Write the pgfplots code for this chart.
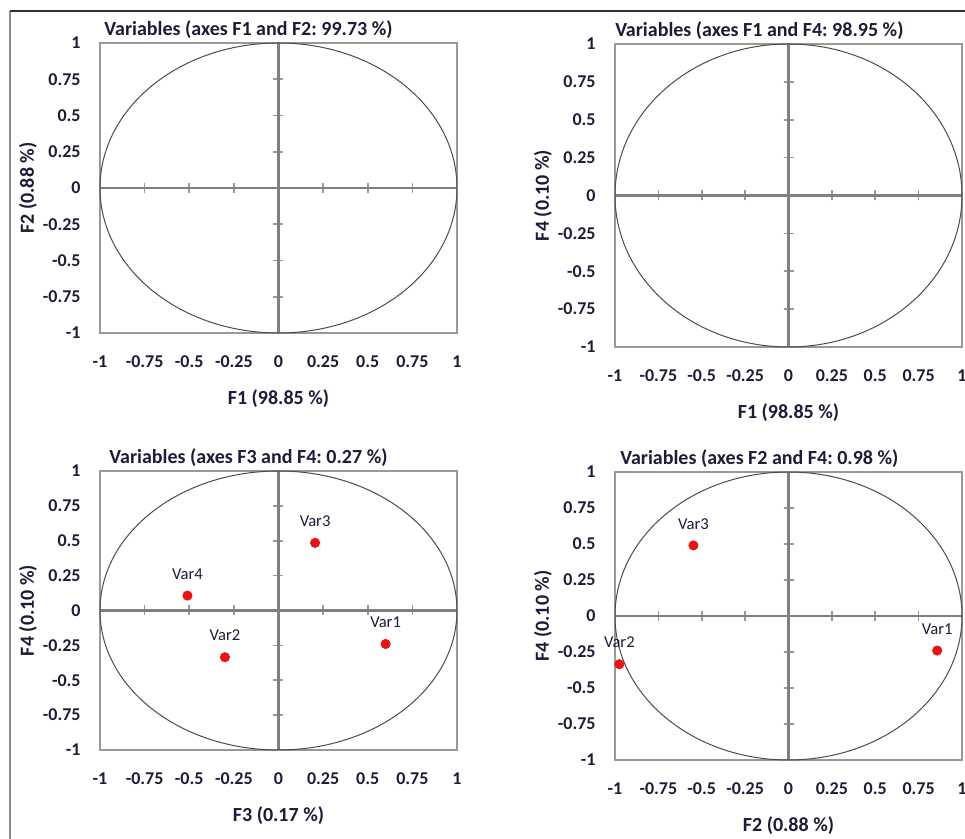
\documentclass[border=0pt]{standalone}
\usepackage{fontspec}
\setmainfont{Carlito}
\usepackage{pgfplots}
\usepackage{pgfplotstable}
\pgfplotsset{compat=1.18}
\frenchspacing
\definecolor{txt}{HTML}{1C1C38}
\definecolor{zl}{HTML}{7F7F7F}
\definecolor{pt}{HTML}{EE1111}

\pgfplotstableread{
x y lab
0.60 -0.24 Var1
-0.30 -0.335 Var2
0.205 0.485 Var3
-0.51 0.107 Var4
}\tabFthreeFfour
\pgfplotstableread{
x y lab
0.857 -0.24 Var1
-0.975 -0.335 Var2
-0.548 0.49 Var3
}\tabFtwoFfour

\pgfplotsset{
  base/.style={scale only axis, xmin=-1, xmax=1, ymin=-1, ymax=1, clip=false},
  boxax/.style={base,
    xtick={-1,-0.75,-0.5,-0.25,0,0.25,0.5,0.75,1},
    ytick={-1,-0.75,-0.5,-0.25,0,0.25,0.5,0.75,1},
    xticklabels={-1,-0.75,-0.5,-0.25,0,0.25,0.5,0.75,1},
    yticklabels={-1,-0.75,-0.5,-0.25,0,0.25,0.5,0.75,1},
    major tick length=0pt,
    axis line style={black!40, line width=0.8pt},
    tick label style={font=\bfseries\fontsize{9}{10}\selectfont, text=txt, inner sep=0pt},
    x tick label style={anchor=center, yshift=-14.5pt},
    y tick label style={anchor=east, xshift=-9.5pt},
    title style={at={(axis description cs:0.416,1)}, anchor=center, yshift=0.5pt, font=\bfseries\fontsize{10}{12}\selectfont, text=txt, inner sep=0pt},
    xlabel style={at={([yshift=-32.75pt]axis description cs:0.5,0)}, anchor=center, font=\bfseries\fontsize{10}{12}\selectfont, text=txt, inner sep=0pt},
    ylabel style={at={([xshift=-36pt]axis description cs:0,0.5)}, anchor=center, font=\bfseries\fontsize{10}{12}\selectfont, text=txt, inner sep=0pt},
  },
  crossax/.style={base,
    axis lines=center, axis line style={-, zl, line width=1.3pt},
    xtick={-0.75,-0.5,-0.25,0.25,0.5,0.75},
    ytick={-0.75,-0.5,-0.25,0.25,0.5,0.75},
    xticklabels={}, yticklabels={},
    tick align=center, major tick length=5pt,
    tick style={black!40, line width=0.8pt},
  },
  pts/.style={only marks, mark=*, mark size=2.3pt, color=pt,
    point meta=explicit symbolic,
    nodes near coords,
    nodes near coords style={anchor=center, yshift=10.8pt, font=\fontsize{8.3}{9}\selectfont, text=txt, inner sep=0pt}},
}

\begin{document}
\begin{tikzpicture}
\useasboundingbox (0,0) rectangle (482.5pt,419.5pt);
\fill[white] (0,0) rectangle (482.5pt,419.5pt);
\draw[black!45, line width=1.1pt] (5pt,0) -- (5pt,414pt);
\draw[black!80, line width=0.6pt] (5pt,414pt) -- (482.5pt,414pt);

% Panel 1: F1 vs F2
\begin{axis}[boxax, at={(50pt,253pt)}, anchor=south west, width=178.5pt, height=145pt,
  title={Variables (axes F1 and F2: 99.73 \%)}, xlabel={F1 (98.85 \%)}, ylabel={F2 (0.88 \%)}]
\end{axis}
\begin{axis}[crossax, at={(50pt,253pt)}, anchor=south west, width=178.5pt, height=145pt]
\draw[black!70, line width=0.5pt] (axis cs:0,0) ellipse [x radius=1, y radius=1];
\end{axis}

% Panel 2: F1 vs F4
\begin{axis}[boxax, at={(307.5pt,246pt)}, anchor=south west, width=173.5pt, height=151.5pt,
  title={Variables (axes F1 and F4: 98.95 \%)}, xlabel={F1 (98.85 \%)}, ylabel={F4 (0.10 \%)}]
\end{axis}
\begin{axis}[crossax, at={(307.5pt,246pt)}, anchor=south west, width=173.5pt, height=151.5pt,
  y axis line style={line width=1.9pt}]
\draw[black!70, line width=0.5pt] (axis cs:0,0) ellipse [x radius=1, y radius=1];
\end{axis}

% Panel 3: F3 vs F4
\begin{axis}[boxax, at={(50pt,44.5pt)}, anchor=south west, width=178.5pt, height=139.5pt,
  title={Variables (axes F3 and F4: 0.27 \%)}, xlabel={F3 (0.17 \%)}, ylabel={F4 (0.10 \%)}]
\end{axis}
\begin{axis}[crossax, at={(50pt,44.5pt)}, anchor=south west, width=178.5pt, height=139.5pt]
\draw[black!70, line width=0.5pt] (axis cs:0,0) ellipse [x radius=1, y radius=1];
\addplot[pts] table[x=x, y=y, meta=lab] {\tabFthreeFfour};
\end{axis}

% Panel 4: F2 vs F4
\begin{axis}[boxax, at={(307.5pt,39.5pt)}, anchor=south west, width=173.5pt, height=144pt,
  title={Variables (axes F2 and F4: 0.98 \%)}, xlabel={F2 (0.88 \%)}, ylabel={F4 (0.10 \%)}]
\end{axis}
\begin{axis}[crossax, at={(307.5pt,39.5pt)}, anchor=south west, width=173.5pt, height=144pt,
  y axis line style={line width=1.9pt}]
\draw[black!70, line width=0.5pt] (axis cs:0,0) ellipse [x radius=1, y radius=1];
\addplot[pts] table[x=x, y=y, meta=lab] {\tabFtwoFfour};
\end{axis}
\end{tikzpicture}
\end{document}
